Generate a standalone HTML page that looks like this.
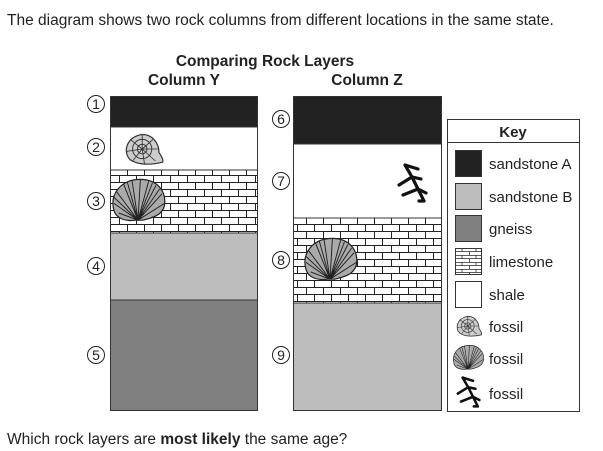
<!DOCTYPE html>
<html><head><meta charset="utf-8"><style>
html,body{margin:0;padding:0;background:#fff;}
svg{display:block;font-family:"Liberation Sans",Arial,sans-serif;}
</style></head><body>
<svg width="603" height="451" viewBox="0 0 603 451" xmlns="http://www.w3.org/2000/svg">
<defs>
<pattern id="lime" x="0" y="0" width="34" height="14" patternUnits="userSpaceOnUse">
<rect width="34" height="14" fill="#fff"/>
<line x1="0" y1="0.5" x2="34" y2="0.5" stroke="#222" stroke-width="1"/>
<line x1="0" y1="7.5" x2="34" y2="7.5" stroke="#222" stroke-width="1"/>
<line x1="8.5" y1="0" x2="8.5" y2="7" stroke="#222" stroke-width="1"/>
<line x1="25.5" y1="0" x2="25.5" y2="7" stroke="#222" stroke-width="1"/>
<line x1="0.5" y1="7" x2="0.5" y2="14" stroke="#222" stroke-width="1"/>
<line x1="17.5" y1="7" x2="17.5" y2="14" stroke="#222" stroke-width="1"/>
</pattern>
<pattern id="limek" x="455" y="248" width="14" height="7" patternUnits="userSpaceOnUse">
<rect width="14" height="7" fill="#fff"/>
<line x1="0" y1="0.5" x2="14" y2="0.5" stroke="#333" stroke-width="0.8"/>
<line x1="7" y1="0" x2="7" y2="3.5" stroke="#333" stroke-width="0.8"/>
<line x1="0" y1="3.5" x2="14" y2="3.5" stroke="#333" stroke-width="0.8"/>
<line x1="0.5" y1="3.5" x2="0.5" y2="7" stroke="#333" stroke-width="0.8"/>
</pattern>
<g id="amm">
<path d="M0,-12 C9,-13 15,-5 15,3 C17,6 19,9 18,11 C10,13 -2,14 -9,9 C-15,3 -13,-9 0,-12Z" fill="#ccc" stroke="#333" stroke-width="1"/>
<circle cx="1" cy="0" r="8" fill="none" stroke="#333" stroke-width="0.8"/>
<circle cx="1" cy="0" r="4" fill="none" stroke="#333" stroke-width="0.8"/>
<path d="M1,0 L1,-12 M1,0 L10,-8 M1,0 L14,0 M1,0 L12,10 M1,0 L3,13 M1,0 L-7,10 M1,0 L-12,2 M1,0 L-9,-8" stroke="#333" stroke-width="0.7"/>
</g>
<g id="shell">
<path d="M-20,8 C-24,-6 -14,-18 2,-18 C16,-18 24,-8 22,4 C20,12 12,14 4,16 L-2,16 C-10,17 -18,15 -20,8Z" fill="#aaa" stroke="#222" stroke-width="1"/>
<path d="M0,16 L-20,2 M0,16 L-18,-8 M0,16 L-12,-14 M0,16 L-5,-17 M0,16 L2,-18 M0,16 L9,-17 M0,16 L15,-13 M0,16 L20,-6 M0,16 L22,2 M0,16 L-16,10 M0,16 L-20,-3 M0,16 L-9,-16 M0,16 L12,-15 M0,16 L18,-10" stroke="#222" stroke-width="0.8"/>
</g>
<g id="fern">
<path d="M-8,-18 L-1,-6 L5,6 L11,18 M-8,-18 L5,-14 M-14,2 L-1,-6 L8,-4 M-10,12 L5,6 L13,10 M6,18 L11,18" stroke="#111" stroke-width="3.2" fill="none" stroke-linecap="round"/>
</g>
</defs>

<text x="7" y="25" font-size="15.5" fill="#222">The diagram shows two rock columns from different locations in the same state.</text>
<text x="265" y="66" font-size="15.5" font-weight="bold" text-anchor="middle" fill="#222">Comparing Rock Layers</text>
<text x="184" y="85" font-size="15.5" font-weight="bold" text-anchor="middle" fill="#222">Column Y</text>
<text x="367" y="85" font-size="15.5" font-weight="bold" text-anchor="middle" fill="#222">Column Z</text>

<!-- Column Y -->
<rect x="110" y="96" width="148" height="31" fill="#222"/>
<rect x="110" y="127" width="148" height="43" fill="#fff"/>
<rect x="110" y="170" width="148" height="63" fill="url(#lime)"/>
<rect x="110" y="233" width="148" height="67" fill="#bdbdbd"/>
<rect x="110" y="300" width="148" height="111" fill="#808080"/>
<path d="M110,127H258M110,170H258M110,233H258M110,300H258" stroke="#333" stroke-width="1"/>
<rect x="110.5" y="96.5" width="147" height="314" fill="none" stroke="#333" stroke-width="1"/>
<g transform="translate(141,149) scale(1.2)"><use href="#amm"/></g>
<g transform="translate(138,201) scale(1.2)"><use href="#shell"/></g>

<!-- Column Z -->
<rect x="293" y="96" width="149" height="48" fill="#222"/>
<rect x="293" y="144" width="149" height="74" fill="#fff"/>
<rect x="293" y="218" width="149" height="85" fill="url(#lime)"/>
<rect x="293" y="303" width="149" height="108" fill="#bdbdbd"/>
<path d="M293,144H442M293,218H442M293,303H442" stroke="#333" stroke-width="1"/>
<rect x="293.5" y="96.5" width="148" height="314" fill="none" stroke="#333" stroke-width="1"/>
<g transform="translate(330,260) scale(1.2)"><use href="#shell"/></g>
<use href="#fern" x="413" y="183"/>

<!-- circled numbers -->
<g font-size="14" text-anchor="middle" fill="#222">
<g fill="none" stroke="#222" stroke-width="1">
<circle cx="96" cy="104" r="8.5"/><circle cx="96" cy="147" r="8.5"/><circle cx="96" cy="201" r="8.5"/><circle cx="96" cy="266" r="8.5"/><circle cx="96" cy="355" r="8.5"/>
<circle cx="281" cy="119" r="8.5"/><circle cx="281" cy="181" r="8.5"/><circle cx="281" cy="260" r="8.5"/><circle cx="281" cy="355" r="8.5"/>
</g>
<text x="96" y="109">1</text><text x="96" y="152">2</text><text x="96" y="206">3</text><text x="96" y="271">4</text><text x="96" y="360">5</text>
<text x="281" y="124">6</text><text x="281" y="186">7</text><text x="281" y="265">8</text><text x="281" y="360">9</text>
</g>

<!-- Key -->
<rect x="447.5" y="119.5" width="132" height="292" fill="#fff" stroke="#333" stroke-width="1"/>
<line x1="447" y1="142.5" x2="580" y2="142.5" stroke="#333" stroke-width="1"/>
<text x="513" y="137" font-size="15" font-weight="bold" text-anchor="middle" fill="#222">Key</text>
<rect x="455.5" y="150.5" width="26" height="26" fill="#222" stroke="#333"/>
<rect x="455.5" y="183.5" width="26" height="26" fill="#bdbdbd" stroke="#333"/>
<rect x="455.5" y="215.5" width="26" height="26" fill="#808080" stroke="#333"/>
<rect x="455.5" y="248.5" width="26" height="26" fill="url(#limek)" stroke="#333"/>
<rect x="455.5" y="281.5" width="26" height="26" fill="#fff" stroke="#333"/>
<g transform="translate(467,326) scale(0.8)"><use href="#amm"/></g>
<g transform="translate(468,358) scale(0.7)"><use href="#shell"/></g>
<g transform="translate(469,392) scale(0.8)"><use href="#fern"/></g>
<g font-size="15" fill="#222">
<text x="489" y="169">sandstone A</text>
<text x="489" y="202">sandstone B</text>
<text x="489" y="234">gneiss</text>
<text x="489" y="267">limestone</text>
<text x="489" y="300">shale</text>
<text x="489" y="332">fossil</text>
<text x="489" y="364">fossil</text>
<text x="489" y="399">fossil</text>
</g>

<text x="7" y="444" font-size="15.5" fill="#222">Which rock layers are <tspan font-weight="bold">most likely</tspan> the same age?</text>
</svg>
</body></html>
